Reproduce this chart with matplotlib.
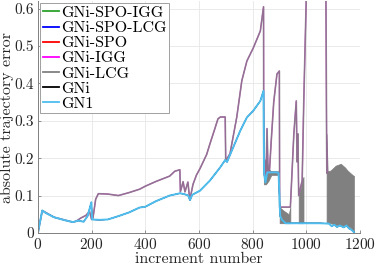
import matplotlib
matplotlib.use("Agg")
import matplotlib.pyplot as plt
import numpy as np

plt.rcParams['font.family'] = ['cmr10', 'DejaVu Serif']
plt.rcParams['axes.formatter.use_mathtext'] = True
plt.rcParams['mathtext.fontset'] = 'cm'

# lower curve (GN1 and the methods hidden under it)
x_low = [0, 5, 16, 30, 60, 100, 130, 150, 170, 185, 199, 202, 230, 260, 300, 340, 379, 400, 440,
         491, 529, 545, 560, 567, 575, 604, 641, 679, 698, 705, 728, 754, 779, 803, 829, 841,
         843, 848, 855, 891, 897, 903, 910, 923, 950, 1000, 1050, 1085, 1095, 1105, 1115, 1125,
         1140, 1150, 1160, 1170, 1178]
y_low = [0, 0.02, 0.06, 0.053, 0.042, 0.034, 0.029, 0.033, 0.03, 0.045, 0.082, 0.036, 0.035,
         0.036, 0.045, 0.055, 0.068, 0.07, 0.085, 0.1, 0.106, 0.104, 0.1, 0.088, 0.102, 0.113,
         0.14, 0.175, 0.195, 0.19, 0.229, 0.273, 0.309, 0.327, 0.353, 0.38, 0.16, 0.135, 0.162,
         0.162, 0.16, 0.045, 0.035, 0.026, 0.026, 0.026, 0.026, 0.025, 0.018, 0.022, 0.016, 0.02,
         0.015, 0.02, 0.012, 0.008, 0.002]

# upper curve (GNi-LCG / GNi-IGG)
x_up = [0, 16, 60, 130, 141, 160, 179, 192, 200, 205, 215, 225, 260, 300, 340, 379, 400, 441,
        491, 510, 529, 531, 541, 548, 559, 566, 578, 591, 604, 629, 641, 660, 671, 680, 698, 700,
        716, 741, 760, 779, 803, 829, 841, 842, 850, 854, 858, 863, 870, 879, 891, 900, 901,
        941, 954, 963, 966, 969, 972, 985, 991, 1001, 1010, 1070, 1076, 1077, 1080]
y_up = [0, 0.06, 0.042, 0.029, 0.031, 0.04, 0.047, 0.058, 0.036, 0.04, 0.09, 0.105, 0.104, 0.1,
        0.108, 0.117, 0.125, 0.138, 0.152, 0.165, 0.169, 0.11, 0.137, 0.11, 0.136, 0.088, 0.13,
        0.155, 0.172, 0.21, 0.238, 0.28, 0.305, 0.31, 0.31, 0.193, 0.212, 0.309, 0.407, 0.46,
        0.495, 0.54, 0.605, 0.16, 0.14, 0.279, 0.16, 0.165, 0.25, 0.35, 0.425, 0.433, 0.069,
        0.069, 0.265, 0.353, 0.19, 0.265, 0.1, 0.14, 0.353, 0.65, 1.2, 1.2, 0.265, 0.16, 0.16]

# dense oscillation of GNi-LCG, drawn as envelopes
band_x = [[842, 850, 860, 870, 885, 897],
          [901, 915, 925, 935, 941],
          [972, 980, 985, 990],
          [1076, 1080, 1091, 1110, 1129, 1145, 1154, 1165, 1176, 1178]]
band_lo = [[0.13, 0.13, 0.14, 0.155, 0.155, 0.155],
           [0.026, 0.026, 0.026, 0.026, 0.026],
           [0.026, 0.026, 0.026, 0.026],
           [0.026, 0.026, 0.026, 0.022, 0.02, 0.018, 0.018, 0.015, 0.005, 0.002]]
band_hi = [[0.19, 0.2, 0.17, 0.165, 0.165, 0.165],
           [0.069, 0.06, 0.055, 0.05, 0.069],
           [0.1, 0.12, 0.14, 0.15],
           [0.265, 0.165, 0.167, 0.18, 0.185, 0.175, 0.167, 0.16, 0.153, 0.153]]

labels = ['GNi-SPO-IGG', 'GNi-SPO-LCG', 'GNi-SPO', 'GNi-IGG', 'GNi-LCG', 'GNi', 'GN1']
colors = ['#2ca02c', '#0000ff', '#ff0000', '#ff00ff', '#808080', '#000000', '#4dbeee']

fig = plt.figure(figsize=(3.76, 2.69), dpi=100)
ax = fig.add_axes([0.101, 0.134, 0.856, 0.862])

handles = {}
for lab, col in zip(labels, colors):
    if lab in ('GNi-IGG', 'GNi-LCG', 'GN1'):
        continue
    handles[lab], = ax.plot(x_low, y_low, color=col, lw=0.6)
handles['GNi-IGG'], = ax.plot(x_up, y_up, color='#ff00ff', lw=0.8)
for bx, lo, hi in zip(band_x, band_lo, band_hi):
    ax.fill_between(bx, lo, hi, color='#808080', lw=0.5)
handles['GNi-LCG'], = ax.plot(x_up, y_up, color='#808080', lw=1.2, alpha=0.85)
handles['GN1'], = ax.plot(x_low, y_low, color='#4dbeee', lw=1.4)

ax.set_xlim(0, 1200)
ax.set_ylim(0, 0.62)
ax.set_xticks([0, 200, 400, 600, 800, 1000, 1200])
ax.set_yticks([0, 0.1, 0.2, 0.3, 0.4, 0.5, 0.6])
ax.set_yticklabels(['0', '0.1', '0.2', '0.3', '0.4', '0.5', '0.6'])
ax.grid(True, color='#e6e6e6', lw=0.6)
ax.set_axisbelow(True)
for s in ['top', 'right']:
    ax.spines[s].set_visible(False)
for s in ['left', 'bottom']:
    ax.spines[s].set_color('#808080')
    ax.spines[s].set_linewidth(0.7)
ax.tick_params(direction='in', length=2.5, width=0.6, color='#808080',
               labelsize=11, labelcolor='#262626')
ax.tick_params(axis='x', pad=3)
ax.tick_params(axis='y', pad=3)
ax.set_xlabel('increment number', fontsize=11.5, color='#262626', labelpad=0)
ax.set_ylabel('absolute trajectory error', fontsize=11.5, color='#262626', labelpad=0)

leg = ax.legend([handles[l] for l in labels], labels, loc='upper left',
                bbox_to_anchor=(0.0, 1.0), fontsize=11.5, handlelength=1.0,
                handletextpad=0.15, labelspacing=0.06, borderpad=0.15,
                borderaxespad=0.15, fancybox=False, framealpha=1)
leg.get_frame().set_edgecolor('#a0a0a0')
leg.get_frame().set_linewidth(0.7)
for h in leg.get_lines():
    h.set_linewidth(1.3)
    h.set_alpha(1)

fig.savefig('out.png', dpi=100)
